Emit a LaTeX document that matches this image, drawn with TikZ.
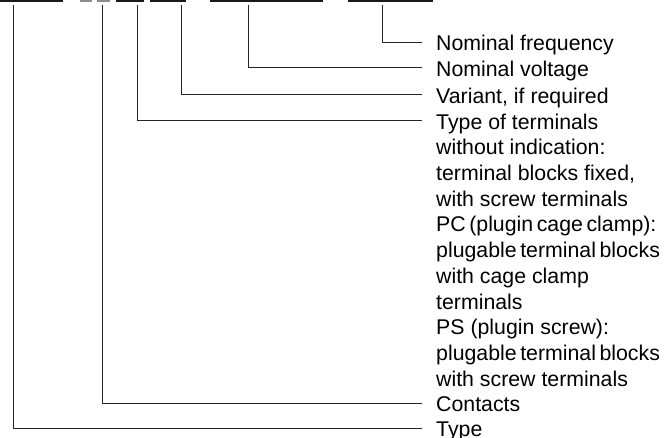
\documentclass[tikz,border=0pt]{standalone}
\usepackage{fontspec}
\setmainfont{Liberation Sans}
\begin{document}
\begin{tikzpicture}[x=1pt,y=-1pt,
  lead/.style={draw=black!85,line width=1pt},
  bar/.style={draw=black!90,line width=1.6pt},
  graybar/.style={draw=black!45,line width=1.6pt},
  lbl/.style={anchor=base west,inner sep=0pt,align=left,
    font=\fontsize{21.3}{25.7}\selectfont}]
\useasboundingbox (0,0) rectangle (668,437);
% code bars at the top
\draw[bar] (0,0.8) -- (63,0.8);
\draw[graybar] (80,0.8) -- (92,0.8);
\draw[graybar] (97,0.8) -- (110,0.8);
\draw[bar] (116,0.8) -- (144,0.8);
\draw[bar] (150,0.8) -- (186,0.8);
\draw[bar] (210,0.8) -- (323,0.8);
\draw[bar] (348,0.8) -- (433,0.8);
% labels
\node[lbl] (freq) at (436,50.8) {Nominal frequency};
\node[lbl] (volt) at (436,76.2) {Nominal voltage};
\node[lbl] (var) at (436,103.0) {Variant, if required};
\node[lbl,anchor=north west] (term) at (436,111.0) {\strut Type of terminals\\
without indication:\\
terminal blocks fixed,\\
with screw terminals\\
PC\,(plugin\,cage\,clamp):\\
plugable\,terminal\,blocks\\
with cage clamp\\
terminals\\
PS (plugin screw):\\
plugable\,terminal\,blocks\\
with screw terminals};
\node[lbl] (cont) at (436,411.5) {Contacts};
\node[lbl] (typ) at (436,436.8) {Type};
% connector ends
\coordinate (t1) at (13,5);
\coordinate (t2) at (102,5);
\coordinate (t3) at (137,5);
\coordinate (t4) at (181,5);
\coordinate (t5) at (248,5);
\coordinate (t6) at (382,5);
\coordinate (e1) at ([xshift=-14pt,yshift=8.5pt]typ.base west);
\coordinate (e2) at ([xshift=-14pt,yshift=8.5pt]cont.base west);
\coordinate (e3) at ([xshift=-14pt,yshift=-9.5pt]term.north west);
\coordinate (e4) at ([xshift=-14pt,yshift=8.5pt]var.base west);
\coordinate (e5) at ([xshift=-14pt,yshift=8.5pt]volt.base west);
\coordinate (e6) at ([xshift=-14pt,yshift=8.5pt]freq.base west);
\draw[lead] (t1) |- (e1);
\draw[lead] (t2) |- (e2);
\draw[lead] (t3) |- (e3);
\draw[lead] (t4) |- (e4);
\draw[lead] (t5) |- (e5);
\draw[lead] (t6) |- (e6);
\end{tikzpicture}
\end{document}
